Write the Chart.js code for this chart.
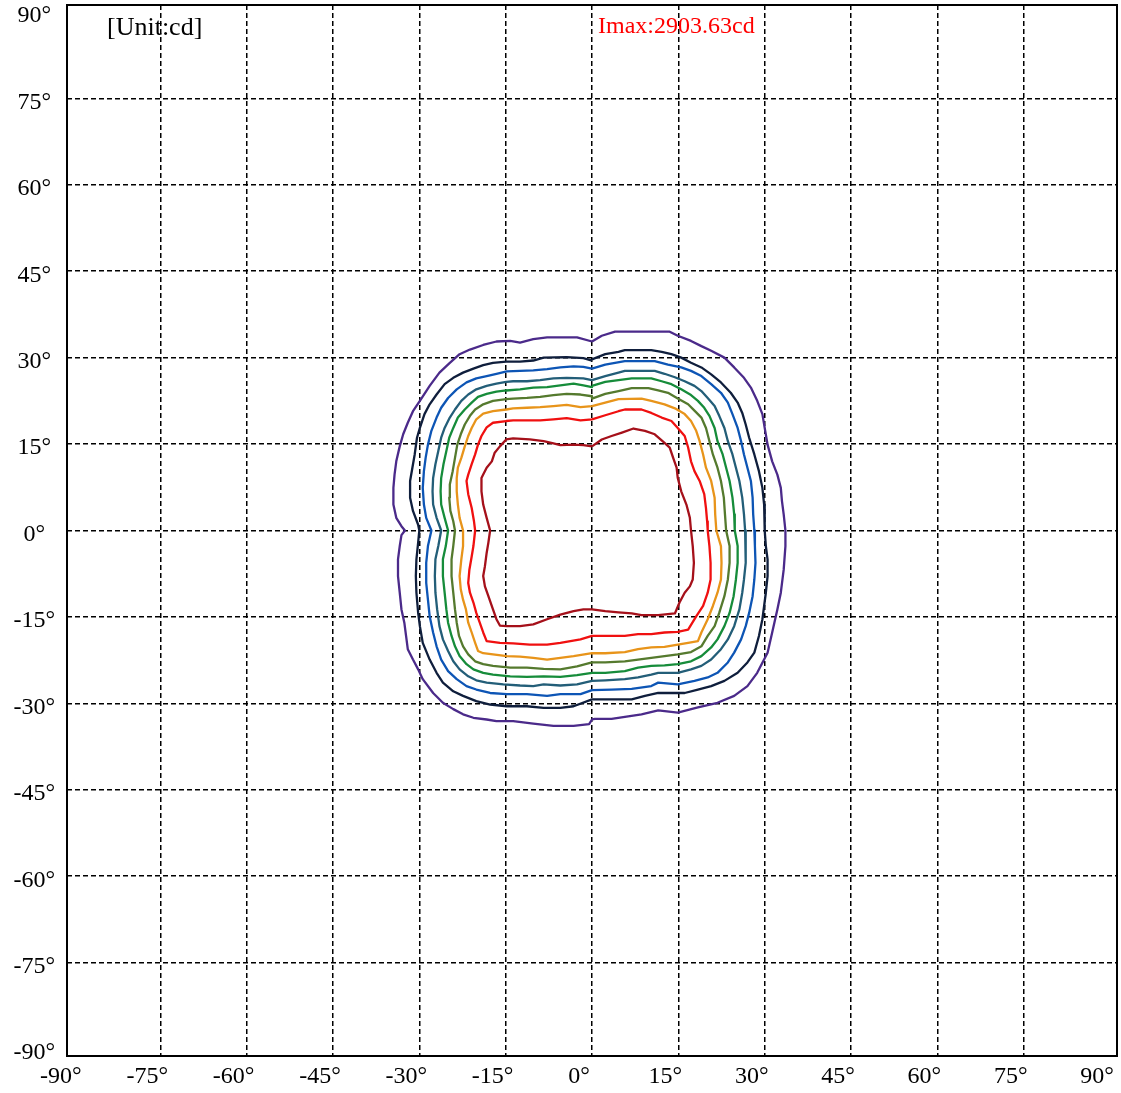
<!DOCTYPE html>
<html>
<head>
<meta charset="utf-8">
<script src="https://cdn.jsdelivr.net/npm/chart.js@4/dist/chart.umd.min.js"></script>
<style>
html,body{margin:0;padding:0;background:#fff;}
#wrap{width:1121px;height:1093px;position:relative;}
</style>
</head>
<body>
<div id="wrap"><canvas id="c" width="1121" height="1093"></canvas></div>
<script>
// Tick values (degrees) for both axes
const tickValues = [-90,-75,-60,-45,-30,-15,0,15,30,45,60,75,90];
const unitText = "[Unit:cd]";
const imaxText = "Imax:2903.63cd";

// Iso-candela contours, [horizontal angle, vertical angle] in degrees, outermost first
const contour1 = [[0,32.8],[1.7,33.8],[4.0,34.5],[7.5,34.5],[13.5,34.5],[14.9,33.8],[17.2,32.9],[19.0,32.0],[20.7,31.2],[23.0,30.0],[24.7,28.3],[26.4,26.5],[27.6,24.8],[28.7,22.5],[29.6,20.2],[30.0,17.8],[30.5,14.9],[31.3,12.0],[32.2,9.7],[32.8,7.4],[33.0,5.1],[33.3,2.8],[33.6,0],
 [33.6,-2.7],[33.3,-6.8],[32.8,-10.8],[32.2,-13.7],[31.3,-17.7],[30.5,-21.2],[28.7,-24.7],[27.0,-27.0],[24.7,-28.7],[21.8,-29.9],[18.4,-30.7],[14.9,-31.6],[11.5,-31.2],[8.6,-31.9],[3.4,-32.7],[0.5,-32.7],[0,-32.8],[-0.5,-33.6],
 [-3.2,-33.9],[-6.7,-33.9],[-10.2,-33.5],[-13.7,-33.1],[-16.6,-33.1],[-18.3,-32.8],[-20.6,-32.5],[-22.4,-31.9],[-24.1,-31.0],[-25.9,-29.9],[-27.6,-28.2],[-29.4,-25.8],[-30.2,-24.1],[-31.1,-22.4],[-32.0,-20.6],[-32.3,-18.3],[-32.6,-16.0],[-33.1,-13.7],[-33.4,-10.8],[-33.7,-7.9],[-33.7,-5.0],[-33.4,-2.7],[-33.1,-0.8],[-32.5,0],
 [-33.1,0.75],[-34.0,2.2],[-34.5,4.5],[-34.5,7.4],[-34.3,9.7],[-34.0,12.0],[-33.4,14.6],[-32.8,16.7],[-32.0,18.7],[-31.1,20.7],[-29.9,22.5],[-28.2,25.1],[-26.5,27.4],[-24.7,29.1],[-23.0,30.6],[-21.2,31.4],[-18.9,32.2],[-16.6,32.8],[-14.2,32.9],[-12.5,32.6],[-10.2,33.2],[-7.8,33.5],[-2.6,33.5],[0,32.8]];

const contour2 = [[0,29.7],[2.3,30.6],[4.6,31.0],[5.7,31.3],[10.3,31.3],[12.1,31.0],[13.8,30.6],[15.5,30.0],[17.2,29.1],[19.0,28.3],[20.7,27.1],[22.4,25.7],[24.1,23.9],[25.3,22.2],[26.1,20.4],[26.7,18.4],[27.3,16.1],[28.2,13.2],[29.0,10.3],[29.6,7.4],[29.9,4.5],[30.0,1.6],[30.0,0],
 [30.2,-2.7],[30.5,-5.0],[30.5,-7.9],[30.2,-10.8],[29.9,-13.1],[29.6,-15.4],[29.0,-18.3],[28.2,-21.2],[27.0,-22.9],[25.3,-24.7],[23.0,-26.1],[20.7,-27.0],[18.4,-27.6],[16.1,-28.2],[11.5,-28.2],[9.2,-28.7],[6.9,-29.3],[0,-29.3],
 [-3.2,-30.5],[-5.5,-30.8],[-8.4,-30.8],[-11.3,-30.5],[-14.8,-30.5],[-17.7,-30.2],[-20.1,-29.6],[-22.4,-28.7],[-24.1,-27.9],[-25.9,-26.4],[-27.0,-24.7],[-28.2,-22.4],[-29.4,-19.5],[-29.9,-16.6],[-30.2,-14.3],[-30.5,-10.8],[-30.6,-7.9],[-30.5,-5.0],[-30.2,-2.1],[-30.0,0],
 [-30.2,1.0],[-31.1,3.4],[-31.6,5.7],[-31.6,8.6],[-31.2,10.9],[-30.8,13.2],[-30.4,16.1],[-29.9,17.8],[-29.1,20.2],[-28.2,21.9],[-27.0,23.6],[-25.6,25.4],[-24.1,26.5],[-22.4,27.4],[-20.6,28.1],[-18.9,28.7],[-17.2,29.1],[-14.9,29.3],[-12.5,29.3],[-10.2,29.5],[-8.4,30.0],[-4.4,30.1],[-1.5,29.9],[0,29.5]];

const contour3 = [[0,28.1],[2.3,28.8],[5.7,29.4],[10.9,29.4],[13.2,28.8],[15.5,28.3],[17.2,27.7],[19.0,26.8],[20.7,25.4],[22.4,23.9],[23.6,22.2],[24.4,20.2],[25.3,17.8],[25.9,15.5],[26.4,13.2],[27.0,10.9],[27.6,8.6],[27.9,5.7],[28.0,2.8],[28.2,0],
 [28.3,-2.7],[28.4,-5.6],[28.2,-8.5],[27.9,-11.4],[27.3,-14.3],[26.7,-16.6],[25.9,-18.9],[24.7,-21.2],[23.6,-22.9],[21.8,-24.7],[20.1,-25.5],[17.8,-26.1],[14.9,-26.7],[11.5,-26.4],[10.3,-27.0],[6.9,-27.5],[3.4,-27.6],[0,-27.7],
 [-2.0,-28.4],[-5.5,-28.4],[-7.8,-28.7],[-11.3,-28.4],[-14.8,-28.4],[-17.7,-28.2],[-20.1,-27.6],[-21.8,-27.0],[-23.5,-25.8],[-25.0,-24.4],[-26.2,-22.4],[-27.0,-20.1],[-27.6,-17.7],[-28.2,-14.9],[-28.5,-12.0],[-28.8,-9.1],[-28.8,-5.6],[-28.5,-2.7],[-27.9,0],
 [-28.8,2.2],[-29.2,4.5],[-29.4,7.4],[-29.2,10.3],[-28.9,12.6],[-28.5,14.9],[-27.9,17.3],[-27.0,19.6],[-26.2,21.3],[-25.0,23.0],[-23.5,24.5],[-21.8,25.7],[-20.1,26.4],[-18.3,26.8],[-16.6,27.2],[-14.8,27.6],[-12.5,27.7],[-10.2,27.8],[-7.8,28.0],[-5.5,28.3],[-3.2,28.5],[-1.5,28.4],[0,28.1]];

const contour4 = [[0,26.1],[2.3,26.8],[4.6,27.4],[5.7,27.7],[10.9,27.7],[12.6,27.2],[14.4,26.6],[16.1,25.9],[17.8,25.1],[19.0,24.2],[20.1,23.0],[21.3,21.6],[22.1,19.9],[23.0,17.8],[23.6,15.5],[24.4,13.2],[25.0,10.9],[25.6,8.6],[26.1,5.7],[26.4,2.8],[26.6,0],
 [26.7,-2.7],[26.7,-5.6],[26.4,-8.5],[26.1,-10.8],[25.6,-13.7],[24.7,-16.6],[23.6,-18.9],[22.4,-20.6],[20.7,-22.4],[19.0,-23.5],[17.2,-24.1],[14.9,-24.7],[11.5,-24.7],[10.3,-25.0],[8.0,-25.5],[5.7,-25.8],[2.3,-26.0],[0,-26.1],
 [-2.6,-26.7],[-5.5,-26.9],[-8.4,-26.7],[-10.2,-27.0],[-12.5,-26.9],[-15.4,-26.7],[-18.3,-26.4],[-20.1,-26.0],[-21.5,-25.3],[-23.0,-24.1],[-24.1,-22.7],[-25.0,-20.9],[-25.9,-18.9],[-26.5,-16.6],[-26.9,-13.7],[-27.2,-10.8],[-27.3,-7.9],[-27.2,-5.0],[-26.7,-2.7],[-26.2,0],
 [-27.0,2.2],[-27.6,4.5],[-27.7,6.8],[-27.6,9.1],[-27.2,11.5],[-26.7,13.8],[-26.2,16.1],[-25.6,17.8],[-24.7,19.6],[-23.8,21.0],[-22.7,22.5],[-21.5,23.6],[-20.1,24.5],[-18.3,25.1],[-16.6,25.5],[-14.9,25.8],[-13.7,25.9],[-11.3,25.9],[-9.0,26.1],[-6.7,26.4],[-4.4,26.5],[-1.5,26.4],[0,26.1]];

const contour5 = [[0,25.1],[2.3,25.8],[4.6,26.1],[6.9,26.4],[10.3,26.4],[12.1,25.9],[13.8,25.4],[15.5,24.5],[17.2,23.5],[18.4,22.5],[19.5,21.3],[20.4,19.9],[21.3,17.8],[21.8,15.5],[22.7,13.2],[23.3,10.9],[23.9,8.6],[24.4,5.7],[24.7,2.8],[24.8,0],
 [25.3,-2.7],[25.3,-5.6],[25.0,-8.5],[24.6,-11.4],[23.9,-14.3],[23.0,-16.6],[21.8,-18.9],[20.7,-20.3],[19.0,-21.8],[17.2,-22.7],[14.9,-23.2],[12.6,-23.4],[10.3,-23.5],[8.0,-23.8],[5.7,-24.4],[2.3,-24.7],[0,-24.7],
 [-2.6,-25.1],[-5.5,-25.4],[-8.4,-25.3],[-11.3,-25.4],[-14.2,-25.3],[-17.2,-25.0],[-18.9,-24.7],[-20.6,-24.1],[-21.8,-23.2],[-23.0,-21.8],[-23.8,-20.1],[-24.4,-18.3],[-25.0,-16.0],[-25.3,-13.7],[-25.6,-10.8],[-25.9,-7.9],[-25.9,-5.0],[-25.4,-2.7],[-25.0,0],
 [-25.6,2.2],[-26.2,4.5],[-26.3,6.8],[-26.2,9.1],[-25.8,11.5],[-25.3,13.8],[-24.8,16.1],[-24.1,17.8],[-23.3,19.6],[-22.1,21.0],[-20.9,22.2],[-19.8,23.2],[-18.3,23.7],[-16.6,24.1],[-14.9,24.3],[-12.5,24.5],[-10.2,24.8],[-7.8,24.9],[-5.5,25.2],[-3.2,25.5],[-1.5,25.2],[0,24.9],[0,25.1]];

const contour6 = [[0,22.9],[2.3,23.7],[4.6,24.2],[6.9,24.7],[9.8,24.7],[11.5,24.3],[13.2,23.9],[14.9,22.9],[16.7,21.9],[17.8,20.8],[19.0,19.6],[19.8,17.8],[20.4,15.5],[21.0,13.2],[21.8,10.9],[22.4,8.6],[22.9,5.7],[23.1,2.8],[23.3,0],
 [23.9,-2.7],[23.9,-5.6],[23.6,-8.5],[23.0,-11.4],[22.1,-14.3],[21.3,-16.6],[20.1,-18.3],[19.0,-20.1],[17.2,-21.1],[14.9,-21.5],[12.6,-21.8],[10.3,-22.1],[8.0,-22.4],[5.7,-22.7],[2.3,-22.9],[0,-22.9],
 [-2.6,-23.6],[-5.5,-24.1],[-8.4,-24.0],[-11.3,-23.8],[-14.2,-23.8],[-17.2,-23.5],[-18.9,-23.2],[-20.3,-22.7],[-21.5,-21.5],[-22.4,-20.1],[-23.1,-18.3],[-23.5,-16.0],[-23.8,-13.7],[-24.1,-10.8],[-24.4,-7.9],[-24.4,-5.0],[-24.1,-2.7],[-23.8,0],
 [-24.1,1.6],[-24.6,3.4],[-24.8,5.7],[-24.7,8.0],[-24.2,10.3],[-23.8,12.6],[-23.4,14.9],[-22.8,16.7],[-22.1,18.4],[-21.2,19.9],[-20.3,21.0],[-18.9,21.9],[-17.2,22.5],[-14.9,22.8],[-13.7,22.9],[-11.3,23.0],[-9.0,23.2],[-6.7,23.5],[-4.4,23.7],[-2.0,23.6],[0,23.3],[0,22.9]];

const contour7 = [[0,21.6],[2.3,22.2],[4.6,22.8],[8.6,22.9],[10.3,22.5],[12.6,21.9],[14.4,21.2],[16.1,20.2],[17.2,19.0],[18.1,17.3],[18.7,15.5],[19.3,13.2],[19.8,10.9],[20.7,8.6],[21.3,5.7],[21.4,2.8],[21.6,0],
 [22.4,-2.7],[22.5,-5.6],[22.4,-8.5],[21.8,-10.8],[21.0,-13.1],[20.1,-15.4],[19.0,-17.7],[18.4,-19.2],[16.7,-19.5],[14.9,-19.8],[12.6,-20.2],[10.3,-20.3],[8.0,-20.6],[5.7,-21.1],[2.3,-21.3],[0,-21.3],
 [-3.2,-21.8],[-5.5,-22.1],[-7.8,-22.4],[-10.2,-22.1],[-12.5,-21.9],[-14.8,-21.8],[-17.2,-21.5],[-18.9,-21.3],[-19.8,-20.9],[-20.3,-19.5],[-20.9,-17.7],[-21.5,-16.0],[-21.9,-13.7],[-22.4,-12.0],[-22.8,-10.2],[-23.0,-7.9],[-22.7,-5.0],[-22.4,-2.7],[-22.4,0],
 [-23.0,2.2],[-23.3,4.5],[-23.5,6.8],[-23.5,9.1],[-23.3,10.9],[-22.7,12.6],[-22.1,14.6],[-21.5,16.4],[-20.9,17.8],[-20.1,19.3],[-18.9,20.3],[-17.2,20.7],[-14.9,21.0],[-13.7,21.2],[-11.3,21.3],[-9.0,21.4],[-6.7,21.6],[-4.4,21.8],[-2.0,21.4],[0,21.6]];

const contour8 = [[0,19.3],[2.3,20.0],[4.6,20.7],[5.7,21.0],[8.6,21.0],[10.3,20.4],[12.1,19.6],[13.8,19.0],[14.9,17.8],[16.1,16.4],[16.7,14.4],[17.2,12.0],[17.8,10.3],[18.7,8.6],[19.5,6.3],[19.8,3.9],[20.0,1.6],[20.1,0],
 [20.4,-2.7],[20.6,-5.6],[20.6,-8.5],[20.1,-10.8],[19.3,-13.1],[18.1,-14.9],[16.7,-17.2],[14.9,-17.6],[12.6,-17.7],[10.3,-18.0],[8.0,-18.0],[5.7,-18.3],[2.3,-18.3],[0,-18.3],
 [-2.0,-18.9],[-5.5,-19.5],[-7.8,-19.8],[-10.8,-19.8],[-13.7,-19.6],[-16.0,-19.5],[-18.3,-19.2],[-18.9,-17.7],[-19.5,-16.0],[-20.1,-14.3],[-20.6,-12.5],[-21.2,-10.8],[-21.5,-9.1],[-21.3,-6.8],[-20.9,-4.5],[-20.6,-2.7],[-20.3,0],
 [-20.5,1.6],[-20.9,3.9],[-21.5,6.3],[-21.8,8.6],[-21.5,9.7],[-20.9,11.5],[-20.3,13.2],[-19.8,14.9],[-19.2,16.4],[-18.3,17.9],[-17.2,18.7],[-14.9,19.0],[-13.7,19.1],[-11.3,19.1],[-9.0,19.1],[-6.7,19.3],[-4.4,19.5],[-2.0,19.1],[0,19.3]];

const contour9 = [[0,14.6],[1.7,15.8],[3.4,16.4],[5.2,17.0],[7.2,17.7],[9.2,17.3],[10.9,16.7],[12.6,15.2],[13.5,14.4],[14.1,12.6],[14.7,10.9],[14.9,9.1],[15.5,6.8],[16.4,4.5],[17.0,2.2],[17.2,0],
 [17.5,-2.7],[17.7,-5.6],[17.5,-8.5],[17.0,-9.7],[16.1,-10.8],[15.2,-12.5],[14.4,-14.4],[11.5,-14.7],[8.6,-14.7],[6.9,-14.4],[4.6,-14.2],[2.3,-14.0],[0,-13.7],
 [-1.5,-13.7],[-3.2,-14.0],[-5.5,-14.6],[-7.8,-15.4],[-10.2,-16.3],[-12.5,-16.6],[-14.8,-16.6],[-16.0,-16.5],[-16.6,-15.4],[-17.2,-13.7],[-18.0,-11.4],[-18.6,-9.7],[-18.9,-7.9],[-18.6,-6.2],[-18.3,-3.9],[-18.0,-2.1],[-17.7,0],
 [-18.3,2.2],[-18.9,4.5],[-19.2,6.8],[-19.2,9.1],[-18.9,9.7],[-18.3,10.9],[-17.4,12.0],[-16.9,13.5],[-16.0,14.6],[-14.9,15.8],[-13.7,16.0],[-10.8,15.8],[-8.4,15.5],[-6.7,15.1],[-5.5,14.8],[-3.2,14.9],[-1.5,14.8],[0,14.6]];

const contours = [contour1,contour2,contour3,contour4,contour5,contour6,contour7,contour8,contour9];
const contourColors = ['#4b2a8a','#0f1e3c','#0d55b5','#235e78','#168c3a','#557a2e','#e8941a','#f01010','#a5101a'];

const FONT = "'Liberation Serif','Times New Roman',serif";

const frameAndText = {
  id: 'frameAndText',
  afterDraw(chart) {
    const {ctx, chartArea: a} = chart;
    ctx.save();
    ctx.strokeStyle = '#000';
    ctx.lineWidth = 2;
    ctx.setLineDash([]);
    ctx.strokeRect(a.left, a.top, a.right - a.left, a.bottom - a.top);
    ctx.textBaseline = 'alphabetic';
    ctx.textAlign = 'left';
    ctx.fillStyle = '#000';
    ctx.font = "26px " + FONT;
    ctx.fillText(unitText, 107, 35);
    ctx.fillStyle = '#ff0000';
    ctx.font = "24px " + FONT;
    ctx.fillText(imaxText, 598, 33);
    ctx.restore();
  }
};

function setTicks(scale) {
  scale.ticks = tickValues.map(v => ({value: v}));
}
function gridColor(ctx) {
  return (ctx.tick && Math.abs(ctx.tick.value) >= 90) ? 'rgba(0,0,0,0)' : '#000';
}

new Chart(document.getElementById('c'), {
  type: 'scatter',
  data: {
    datasets: contours.map((c, i) => ({
      data: c.map(p => ({x: p[0], y: p[1]})),
      showLine: true,
      borderColor: contourColors[i],
      backgroundColor: contourColors[i],
      borderWidth: 2.3,
      borderJoinStyle: 'round',
      pointRadius: 0,
      pointHoverRadius: 0,
      fill: false,
      tension: 0
    }))
  },
  options: {
    responsive: false,
    animation: false,
    devicePixelRatio: 1,
    layout: {padding: {top: 5, right: 4, left: 0, bottom: 0}},
    plugins: {legend: {display: false}, tooltip: {enabled: false}},
    events: [],
    scales: {
      x: {
        type: 'linear', min: -91.2, max: 91.2,
        afterBuildTicks: setTicks,
        afterFit(s) { s.height = 37; s.paddingLeft = 0; s.paddingRight = 0; },
        grid: {color: gridColor, lineWidth: 1.5, drawTicks: false},
        border: {display: false, dash: [5, 3]},
        ticks: {
          color: '#000', font: {family: FONT, size: 24}, padding: 6,
          labelOffset: -13, maxRotation: 0, autoSkip: false,
          callback: v => v + '°'
        }
      },
      y: {
        type: 'linear', min: -91.2, max: 91.2,
        afterBuildTicks: setTicks,
        afterFit(s) { s.width = 67; s.paddingTop = 0; s.paddingBottom = 0; },
        grid: {color: gridColor, lineWidth: 1.5, drawTicks: false},
        border: {display: false, dash: [5, 3]},
        ticks: {
          color: '#000', font: {family: FONT, size: 24}, padding: 12,
          crossAlign: 'center', labelOffset: 4, autoSkip: false,
          callback: v => v + '°'
        }
      }
    }
  },
  plugins: [frameAndText]
});
</script>
</body>
</html>
